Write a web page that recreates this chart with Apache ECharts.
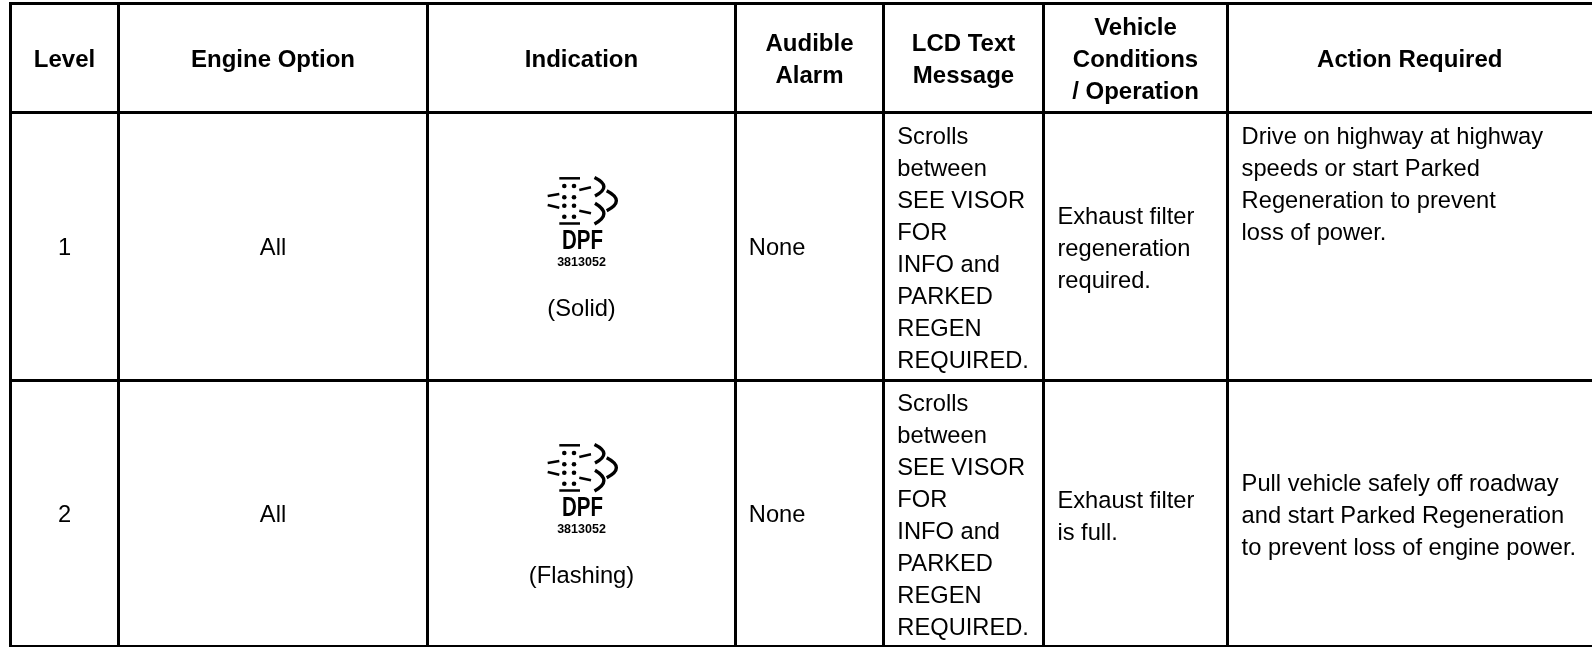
<!DOCTYPE html>
<html lang="en">
  <head>
    <meta charset="UTF-8" />
    <title>DPF indicator table</title>
    <script src="https://cdn.jsdelivr.net/npm/echarts@6/dist/echarts.min.js"></script>
    <style>
      html, body { margin: 0; padding: 0; background: #fff; overflow: hidden; }
      #chart { width: 1592px; height: 647px; }
    </style>
  </head>
  <body>
    <div id="chart"></div>
    <script>
      // table content
      var headers = [
        ['Level'],
        ['Engine Option'],
        ['Indication'],
        ['Audible', 'Alarm'],
        ['LCD Text', 'Message'],
        ['Vehicle', 'Conditions', '/ Operation'],
        ['Action Required']
      ];
      var levels = ['1', '2'];
      var engineOptions = ['All', 'All'];
      var indications = ['(Solid)', '(Flashing)'];
      var iconLabel = 'DPF';
      var iconPartNumber = '3813052';
      var alarms = ['None', 'None'];
      var lcdMessage = ['Scrolls', 'between', 'SEE VISOR', 'FOR', 'INFO and', 'PARKED', 'REGEN', 'REQUIRED.'];
      var conditions = [
        ['Exhaust filter', 'regeneration', 'required.'],
        ['Exhaust filter', 'is full.']
      ];
      var actions = [
        ['Drive on highway at highway', 'speeds or start Parked', 'Regeneration to prevent', 'loss of power.'],
        ['Pull vehicle safely off roadway', 'and start Parked Regeneration', 'to prevent loss of engine power.']
      ];

      // layout, in pixels of the 1592x647 page
      var columnLines = [10.5, 118.5, 427.5, 735.5, 883.5, 1043.5, 1227.5];
      var rowLines = [3.5, 112.5, 380.5];
      var bottomLine = 646;
      var fontSize = 23.7;
      var headerFontSize = 24;
      var baselineShift = 6.2;
      var lineGap = 32;
      var family = '"Liberation Sans", Arial, sans-serif';
      var textColor = '#000';

      var columnCenter = function (i) {
        var right = i + 1 < columnLines.length ? columnLines[i + 1] : 1592;
        return (columnLines[i] + right) / 2;
      };

      var texts = [];
      var addText = function (str, x, baseline, align, bold) {
        texts.push({ str: str, x: x, y: baseline - baselineShift, align: align, bold: bold });
      };
      var addBlock = function (lines, x, firstBaseline, align, bold) {
        lines.forEach(function (line, i) {
          addText(line, x, firstBaseline + i * lineGap, align, bold);
        });
      };

      var headerBaselines = [66.7, 66.7, 66.7, 50.7, 50.7, 35, 66.7];
      headers.forEach(function (lines, i) {
        addBlock(lines, columnCenter(i), headerBaselines[i], 'center', true);
      });

      var rowMiddle = [255, 522];
      var indicationBaseline = [316, 583];
      var lcdFirstBaseline = [143.2, 410.2];
      var conditionFirstBaseline = [224, 507.2];
      var actionFirstBaseline = [143.3, 490.3];
      [0, 1].forEach(function (r) {
        addText(levels[r], columnCenter(0), rowMiddle[r], 'center', false);
        addText(engineOptions[r], columnCenter(1), rowMiddle[r], 'center', false);
        addText(indications[r], columnCenter(2), indicationBaseline[r], 'center', false);
        addText(alarms[r], 748.8, rowMiddle[r], 'left', false);
        addBlock(lcdMessage, 897.3, lcdFirstBaseline[r], 'left', false);
        addBlock(conditions[r], 1057.4, conditionFirstBaseline[r], 'left', false);
        addBlock(actions[r], 1241.6, actionFirstBaseline[r], 'left', false);
      });

      // rules of the table: [x1, y1, x2, y2, width]
      var rules = [];
      rowLines.forEach(function (y) {
        rules.push([columnLines[0] - 1.5, y, 1592, y, 3]);
      });
      rules.push([columnLines[0] - 1.5, bottomLine, 1592, bottomLine, 2]);
      columnLines.forEach(function (x) {
        rules.push([x, rowLines[0], x, bottomLine, 3]);
      });

      // DPF pictogram, offsets from (400, iconTop)
      var iconTops = [170, 437];
      var dotsX = [164.3, 174];
      var dotsY = [16, 27.3, 35.7, 46.7];
      var bars = [[159.3, 8.3, 180, 8.3], [159.3, 53.5, 180, 53.5]];
      var dashes = [[147.7, 26, 159.3, 24], [147.7, 35, 159.3, 37.7], [179.3, 20, 191, 17.3], [179.3, 40.7, 191, 43.3]];
      var arcs = [
        [194.5, 7.5, 195, 26, 213, 16.5],
        [195, 33.3, 194.5, 54, 213, 44],
        [206.7, 20.7, 206.7, 40.7, 226, 30.7]
      ];

      var iconItem = function (api, top) {
        var origin = api.coord([400, top]);
        var children = [];
        bars.concat(dashes).forEach(function (d) {
          children.push({
            type: 'line',
            shape: { x1: d[0], y1: d[1], x2: d[2], y2: d[3] },
            style: { stroke: '#000', lineWidth: 2.5 }
          });
        });
        dotsX.forEach(function (x) {
          dotsY.forEach(function (y) {
            children.push({ type: 'circle', shape: { cx: x, cy: y, r: 2.3 }, style: { fill: '#000' } });
          });
        });
        arcs.forEach(function (a) {
          children.push({
            type: 'bezierCurve',
            shape: { x1: a[0], y1: a[1], x2: a[2], y2: a[3], cpx1: a[4], cpy1: a[5] },
            style: { stroke: '#000', lineWidth: 3.4, fill: null }
          });
        });
        children.push({
          type: 'text',
          x: 182.5,
          y: 71.5,
          scaleX: 0.76,
          style: {
            text: iconLabel,
            align: 'center',
            verticalAlign: 'middle',
            fill: '#000',
            font: 'bold 27px ' + family
          }
        });
        children.push({
          type: 'text',
          x: 181.5,
          y: 93,
          style: {
            text: iconPartNumber,
            align: 'center',
            verticalAlign: 'middle',
            fill: '#000',
            font: 'bold 12.5px ' + family
          }
        });
        return { type: 'group', x: origin[0], y: origin[1], children: children };
      };

      var chart = echarts.init(document.getElementById('chart'));
      chart.setOption({
        animation: false,
        backgroundColor: '#fff',
        grid: { left: 0, right: 0, top: 0, bottom: 0 },
        xAxis: { type: 'value', min: 0, max: 1592, show: false },
        yAxis: { type: 'value', min: 0, max: 647, inverse: true, show: false },
        series: [
          {
            type: 'custom',
            coordinateSystem: 'cartesian2d',
            silent: true,
            clip: false,
            data: rules,
            renderItem: function (params, api) {
              var r = rules[params.dataIndex];
              var a = api.coord([r[0], r[1]]);
              var b = api.coord([r[2], r[3]]);
              return {
                type: 'line',
                shape: { x1: a[0], y1: a[1], x2: b[0], y2: b[1] },
                style: { stroke: '#000', lineWidth: r[4] }
              };
            }
          },
          {
            type: 'custom',
            coordinateSystem: 'cartesian2d',
            silent: true,
            clip: false,
            data: iconTops,
            renderItem: function (params, api) {
              return iconItem(api, iconTops[params.dataIndex]);
            }
          },
          {
            type: 'custom',
            coordinateSystem: 'cartesian2d',
            silent: true,
            clip: false,
            data: texts.map(function (t, i) { return i; }),
            renderItem: function (params, api) {
              var t = texts[params.dataIndex];
              var p = api.coord([t.x, t.y]);
              return {
                type: 'text',
                style: {
                  text: t.str,
                  x: p[0],
                  y: p[1],
                  align: t.align,
                  verticalAlign: 'middle',
                  fill: textColor,
                  font: (t.bold ? 'bold ' + headerFontSize : fontSize) + 'px ' + family
                }
              };
            }
          }
        ]
      });
    </script>
  </body>
</html>
